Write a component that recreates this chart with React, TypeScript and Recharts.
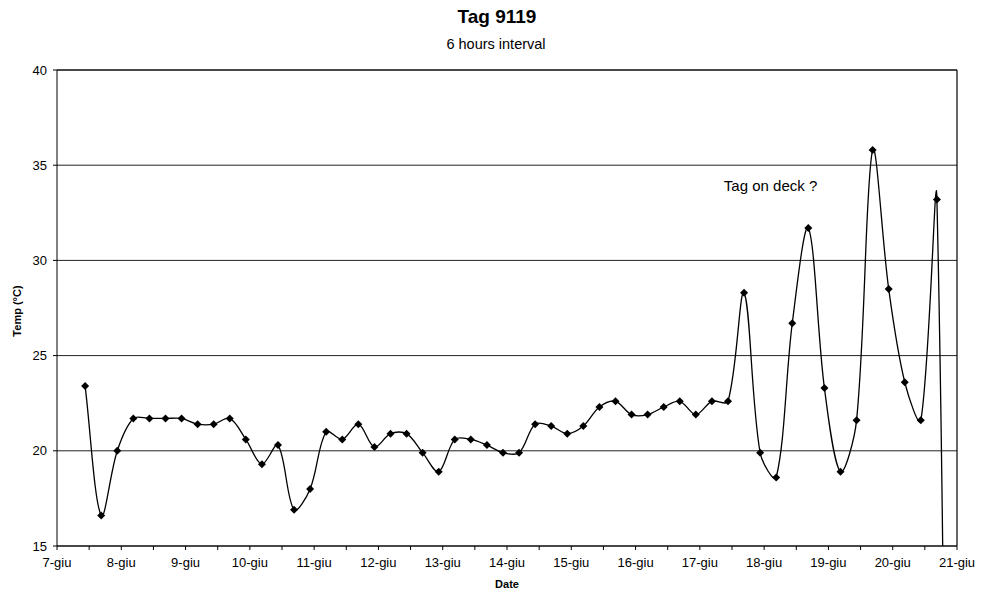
import React from 'react';
import { LineChart, Line, XAxis, YAxis, CartesianGrid, ReferenceLine, ReferenceDot } from 'recharts';

// readings, one every 6 hours, starting 7-giu 10:30
const START_DAY = 7;
const START_HOUR = 10.5;
const INTERVAL_HOURS = 6;
const temps = [
    23.4, 16.6, 20.0, 21.7, 21.7, 21.7, 21.7, 21.4, 21.4, 21.7,
    20.6, 19.3, 20.3, 16.9, 18.0, 21.0, 20.6, 21.4, 20.2, 20.9,
    20.9, 19.9, 18.9, 20.6, 20.6, 20.3, 19.9, 19.9, 21.4, 21.3,
    20.9, 21.3, 22.3, 22.6, 21.9, 21.9, 22.3, 22.6, 21.9, 22.6,
    22.6, 28.3, 19.9, 18.6, 26.7, 31.7, 23.3, 18.9, 21.6, 35.8,
    28.5, 23.6, 21.6, 33.2, -50,
];
const days = [7, 8, 9, 10, 11, 12, 13, 14, 15, 16, 17, 18, 19, 20, 21];
const yTicks = [15, 20, 25, 30, 35, 40];

const data = temps.map((t, i) => ({
    day: START_DAY + (START_HOUR + i * INTERVAL_HOURS) / 24,
    temp: t,
}));
const xTicks = days.flatMap((d) => (d < 21 ? [d, d + 0.5] : [d]));

const FONT = '"Liberation Sans", Arial, sans-serif';

// Excel-style smoothed line: bezier with control points weighted by segment length
const excelSmooth = (context: any) => {
    let pts: number[][] = [];
    const dist = (a: number[], b: number[]) => Math.hypot(b[0] - a[0], b[1] - a[1]);
    return {
        areaStart() {},
        areaEnd() {},
        lineStart() {
            pts = [];
        },
        point(x: number, y: number) {
            pts.push([+x, +y]);
        },
        lineEnd() {
            const n = pts.length;
            if (!n) return;
            context.moveTo(pts[0][0], pts[0][1]);
            for (let i = 0; i < n - 1; i++) {
                const p0 = pts[Math.max(i - 1, 0)];
                const p1 = pts[i];
                const p2 = pts[i + 1];
                const p3 = pts[Math.min(i + 2, n - 1)];
                const d01 = dist(p0, p1);
                const d12 = dist(p1, p2);
                const d23 = dist(p2, p3);
                const f1 = d01 + d12 > 0 ? d12 / (d01 + d12) / 3 : 0;
                const f2 = d12 + d23 > 0 ? d12 / (d12 + d23) / 3 : 0;
                context.bezierCurveTo(
                    p1[0] + (p2[0] - p0[0]) * f1,
                    p1[1] + (p2[1] - p0[1]) * f1,
                    p2[0] - (p3[0] - p1[0]) * f2,
                    p2[1] - (p3[1] - p1[1]) * f2,
                    p2[0],
                    p2[1],
                );
            }
        },
    };
};

const Diamond = (props: any) => {
    const { cx, cy, index } = props;
    if (cx == null || cy == null) return <g key={`d-${index}`} />;
    const r = 4;
    return (
        <path
            key={`d-${index}`}
            d={`M${cx},${cy - r}L${cx + r},${cy}L${cx},${cy + r}L${cx - r},${cy}Z`}
            fill="#000"
        />
    );
};

const App = () => {
    return (
        <div style={{ position: 'absolute', left: 0, top: 0, width: 981, height: 598, background: '#fff' }}>
            <LineChart
                width={981}
                height={598}
                data={data}
                margin={{ top: 70, right: 24, bottom: 0, left: 0 }}
                style={{ fontFamily: FONT }}
            >
                <CartesianGrid horizontal vertical={false} stroke="#222" strokeWidth={1} />
                <XAxis
                    dataKey="day"
                    type="number"
                    domain={[7, 21]}
                    ticks={xTicks}
                    interval={0}
                    tickFormatter={(v: number) => (Number.isInteger(v) ? `${v}-giu` : '')}
                    height={52}
                    tickSize={4}
                    tickMargin={8}
                    axisLine={{ stroke: '#000' }}
                    tickLine={{ stroke: '#000' }}
                    tick={{ fill: '#000', fontSize: 13 }}
                />
                <YAxis
                    type="number"
                    domain={[15, 40]}
                    ticks={yTicks}
                    allowDataOverflow
                    width={57}
                    tickSize={4}
                    tickMargin={6}
                    axisLine={{ stroke: '#000' }}
                    tickLine={{ stroke: '#000' }}
                    tick={{ fill: '#000', fontSize: 13 }}
                />
                <ReferenceLine x={21} stroke="#000" strokeWidth={1.2} />
                <ReferenceLine y={40} stroke="#000" strokeWidth={1.2} />
                <Line
                    dataKey="temp"
                    type={excelSmooth as any}
                    stroke="#000"
                    strokeWidth={1.3}
                    dot={Diamond}
                    activeDot={false}
                    isAnimationActive={false}
                />
                <ReferenceDot
                    x={18.1}
                    y={33.9}
                    r={0}
                    stroke="none"
                    fill="none"
                    label={{ value: 'Tag on deck ?', position: 'center', fill: '#000', fontSize: 15 }}
                />
            </LineChart>
            <svg
                width={981}
                height={598}
                style={{ position: 'absolute', left: 0, top: 0, pointerEvents: 'none', fontFamily: FONT }}
            >
                <text x={497} y={23} textAnchor="middle" fontSize={19} fontWeight="bold" fill="#000">
                    Tag 9119
                </text>
                <text x={496} y={49} textAnchor="middle" fontSize={14.5} fill="#000">
                    6 hours interval
                </text>
                <text
                    transform="translate(21,311) rotate(-90)"
                    textAnchor="middle"
                    fontSize={11}
                    fontWeight="bold"
                    fill="#000"
                >
                    Temp (°C)
                </text>
                <text x={507} y={588} textAnchor="middle" fontSize={11} fontWeight="bold" fill="#000">
                    Date
                </text>
            </svg>
        </div>
    );
};

export default App;
